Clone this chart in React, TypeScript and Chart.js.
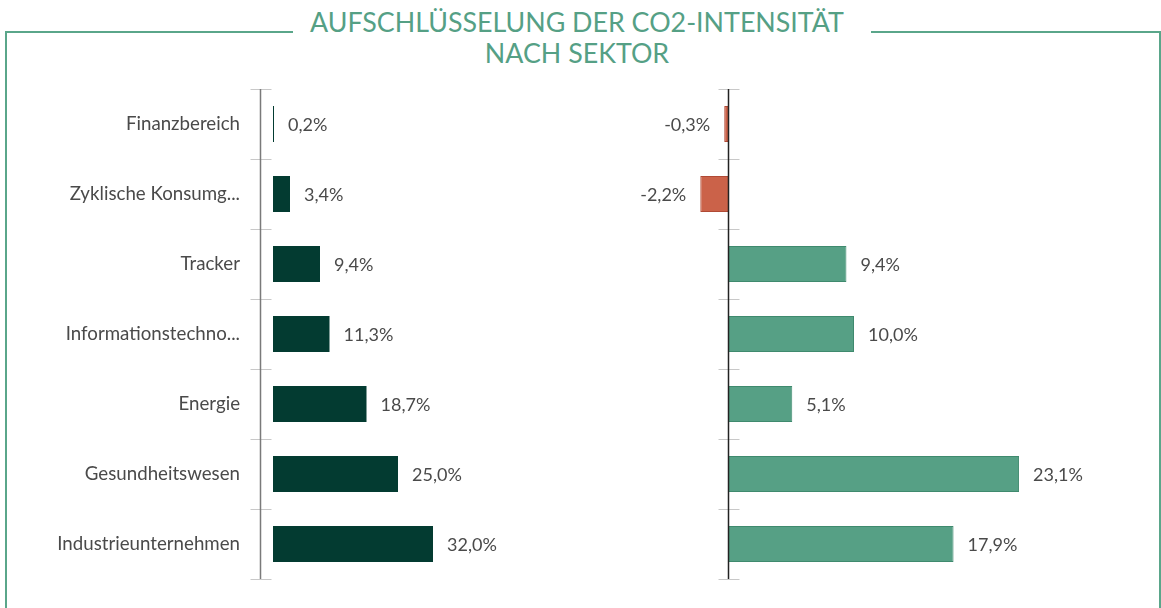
import React, { useEffect, useRef } from "react";
import { Chart, registerables } from "chart.js";

Chart.register(...registerables);

const categories = [
  "Finanzbereich",
  "Zyklische Konsumg...",
  "Tracker",
  "Informationstechno...",
  "Energie",
  "Gesundheitswesen",
  "Industrieunternehmen",
];
const leftValues = [0.2, 3.4, 9.4, 11.3, 18.7, 25.0, 32.0];
const rightValues = [-0.3, -2.2, 9.4, 10.0, 5.1, 23.1, 17.9];

const titleLines = ["AUFSCHLÜSSELUNG DER CO2-INTENSITÄT", "NACH SEKTOR"];

const DARK = "#033b31";
const TEAL = "#56a085";
const TEAL_BORDER = "#3f8a6e";
const RED = "#cb6249";
const RED_BORDER = "#b04a35";
const TEXT = "#4a4a4a";
const FONT = "Lato";

const fmt = (v: number) => v.toFixed(1).replace(".", ",") + "%";

const valueLabels = {
  id: "valueLabels",
  afterDatasetsDraw(chart: any) {
    const ctx = chart.ctx;
    const meta = chart.getDatasetMeta(0);
    const data = chart.data.datasets[0].data as number[];
    ctx.save();
    ctx.font = `18px ${FONT}`;
    ctx.fillStyle = TEXT;
    ctx.textBaseline = "middle";
    meta.data.forEach((bar: any, i: number) => {
      const v = data[i];
      if (v >= 0) {
        ctx.textAlign = "left";
        ctx.fillText(fmt(v), bar.x + 14, bar.y + 1);
      } else {
        ctx.textAlign = "right";
        ctx.fillText(fmt(v), bar.x - 14, bar.y + 1);
      }
    });
    ctx.restore();
  },
};

const axisCross = (axisColor: string, atZero: boolean) => ({
  id: "axisCross",
  afterDatasetsDraw(chart: any) {
    const ctx = chart.ctx;
    const area = chart.chartArea;
    const xs = chart.scales.x;
    const x = Math.round(atZero ? xs.getPixelForValue(0) : area.left) + 0.5;
    const n = categories.length;
    const step = (area.bottom - area.top) / n;
    ctx.save();
    ctx.lineWidth = 1;
    ctx.strokeStyle = "#c8c8c8";
    for (let i = 0; i <= n; i++) {
      const y = Math.round(area.top + i * step) + 0.5;
      ctx.beginPath();
      ctx.moveTo(x - 10, y);
      ctx.lineTo(x + 11, y);
      ctx.stroke();
    }
    ctx.strokeStyle = axisColor;
    ctx.lineWidth = 1.5;
    ctx.beginPath();
    ctx.moveTo(x, area.top);
    ctx.lineTo(x, area.bottom);
    ctx.stroke();
    ctx.restore();
  },
});

function BarPanel(props: {
  values: number[];
  left: number;
  width: number;
  labelWidth: number;
  min: number;
  max: number;
  showLabels: boolean;
  axisColor: string;
  atZero: boolean;
  colors: string[];
  borders: string[];
  borderWidth: number;
}) {
  const ref = useRef<HTMLCanvasElement>(null);
  useEffect(() => {
    const chart = new Chart(ref.current!, {
      type: "bar",
      data: {
        labels: categories,
        datasets: [
          {
            data: props.values,
            backgroundColor: props.colors,
            borderColor: props.borders,
            borderWidth: props.borderWidth,
            categoryPercentage: 1,
            barPercentage: 0.515,
          },
        ],
      },
      options: {
        indexAxis: "y",
        animation: false,
        responsive: false,
        maintainAspectRatio: false,
        layout: { padding: { top: 15, bottom: 15, left: 0, right: 0 } },
        plugins: { legend: { display: false }, tooltip: { enabled: false } },
        scales: {
          x: { display: false, min: props.min, max: props.max },
          y: {
            display: props.showLabels,
            grid: { display: false, drawTicks: true, tickLength: 20 },
            border: { display: false },
            ticks: {
              padding: 0,
              color: TEXT,
              font: { family: FONT, size: 18.7 },
            },
            afterFit: (scale: any) => {
              scale.width = props.labelWidth;
            },
          },
        },
      },
      plugins: [valueLabels, axisCross(props.axisColor, props.atZero)],
    });
    return () => chart.destroy();
  }, []);
  return (
    <canvas
      ref={ref}
      width={props.width}
      height={520}
      style={{ position: "absolute", left: props.left, top: 74, width: props.width, height: 520 }}
    />
  );
}

export default function App() {
  const frameColor = "#5aa68a";
  return (
    <div
      style={{
        position: "fixed",
        left: 0,
        top: 0,
        width: 1161,
        height: 608,
        background: "#fff",
        overflow: "hidden",
      }}
    >
      <div
        style={{
          position: "absolute",
          left: 5,
          top: 31,
          width: 1152,
          height: 700,
          border: `2px solid ${frameColor}`,
        }}
      />
      <div
        style={{
          position: "absolute",
          left: 293,
          top: 20,
          width: 578,
          height: 20,
          background: "#fff",
        }}
      />
      <div
        style={{
          position: "absolute",
          left: 277,
          top: 7,
          width: 600,
          textAlign: "center",
          fontFamily: FONT,
          fontSize: 26.8,
          lineHeight: "31px",
          color: "#55a085",
        }}
      >
        {titleLines.map((t, i) => (
          <div key={i}>{t}</div>
        ))}
      </div>
      <BarPanel
        values={leftValues}
        left={0}
        width={523}
        labelWidth={260}
        min={-2.6}
        max={50}
        showLabels={true}
        axisColor="#7a7a7a"
        atZero={false}
        colors={leftValues.map(() => DARK)}
        borders={leftValues.map(() => DARK)}
        borderWidth={0}
      />
      <BarPanel
        values={rightValues}
        left={600}
        width={506}
        labelWidth={0}
        min={-10.16}
        max={30}
        showLabels={false}
        axisColor="#222222"
        atZero={true}
        colors={rightValues.map((v) => (v < 0 ? RED : TEAL))}
        borders={rightValues.map((v) => (v < 0 ? RED_BORDER : TEAL_BORDER))}
        borderWidth={1}
      />
    </div>
  );
}
